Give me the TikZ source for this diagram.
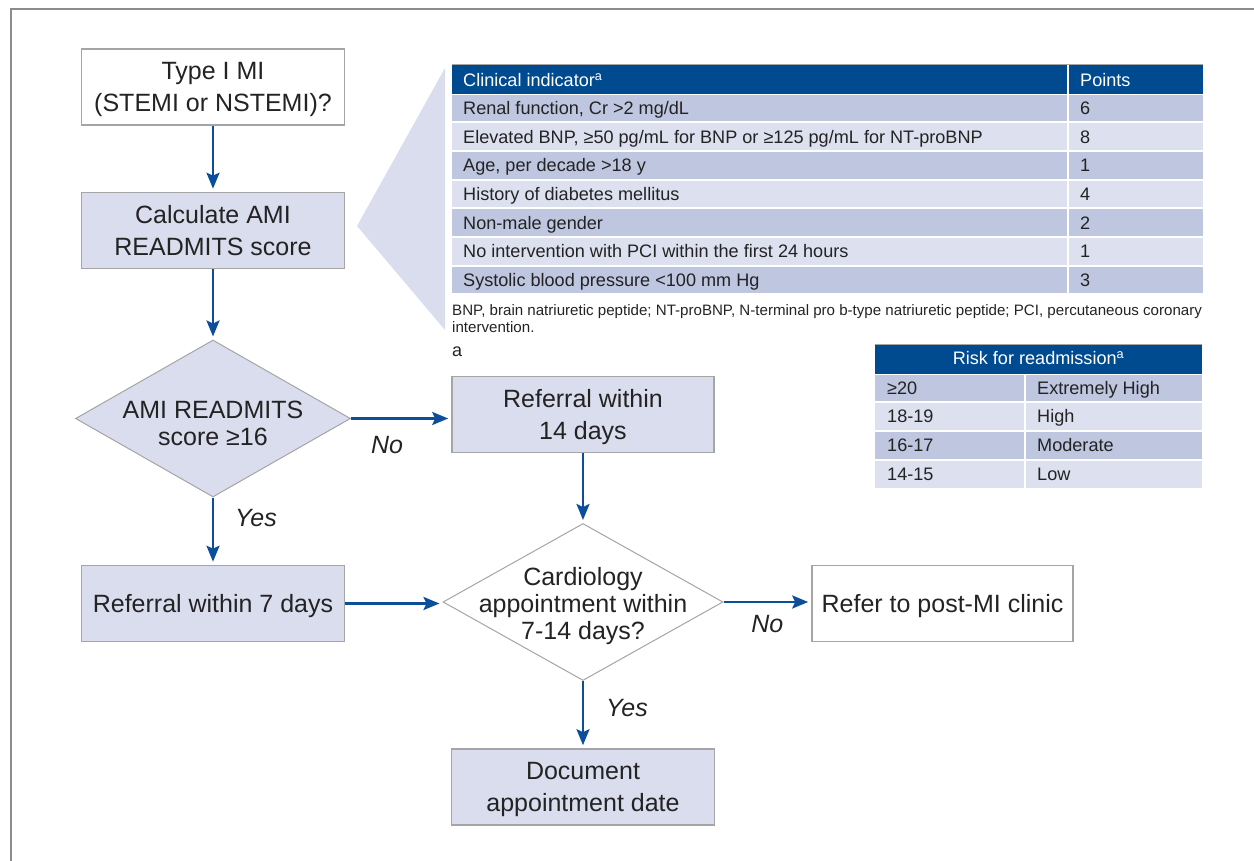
\documentclass[tikz,border=0pt]{standalone}
\usepackage{fontspec}
\setmainfont{Liberation Sans}
\usepackage{xcolor}
\usepackage{tikz}
\usetikzlibrary{calc}
\usetikzlibrary{shapes.geometric,arrows.meta,positioning}

\definecolor{arrowblue}{RGB}{12,78,154}
\definecolor{headblue}{RGB}{0,75,143}
\definecolor{boxfill}{RGB}{218,221,237}
\definecolor{rowdark}{RGB}{190,198,224}
\definecolor{rowlight}{RGB}{221,224,239}
\definecolor{edgegray}{RGB}{165,165,165}
\definecolor{framegray}{RGB}{140,140,140}
\definecolor{inkgray}{RGB}{35,35,35}

\newcommand{\chartfont}{\fontsize{25}{32}\selectfont}
\newcommand{\diafont}{\fontsize{25}{27}\selectfont}
\newcommand{\cellfont}{\fontsize{18.1}{22}\selectfont}
\newcommand{\notefont}{\fontsize{15.1}{17.5}\selectfont}

\begin{document}
\begin{tikzpicture}[x=1pt,y=-1pt,
	flowbox/.style={draw=edgegray,line width=1.6pt,minimum width=263pt,minimum height=76pt,inner sep=0pt,text depth=0pt,align=center,font=\chartfont,text=inkgray},
	shaded/.style={fill=boxfill},
	decision/.style={diamond,draw=edgegray,line width=1pt,inner sep=0pt,minimum width=#1,minimum height=157pt},
	dtext/.style={align=center,font=\diafont,text=inkgray},
	flow/.style={line width=2.6pt,draw=arrowblue,-{Stealth[length=16pt,width=13pt,inset=3pt]},shorten >=3pt},
	yn/.style={font=\chartfont\itshape,text=inkgray,inner sep=0pt},
	cell/.style={font=\cellfont,text=inkgray,inner sep=0pt,text height=1.5ex,text depth=.25ex}]
	\useasboundingbox (0,0) rectangle (1254,861);
	% frame
	\draw[framegray,line width=1.5pt] (11,861) -- (11,9) -- (1254,9);

	% pointer to the score table
	\fill[boxfill] (445,68) -- (357,226) -- (445,330) -- cycle;

	% score table
	\draw[edgegray,line width=0.8pt] (452,64.5) -- (1203,64.5);
	\fill[headblue] (452,65) rectangle (1067,93.6);
	\fill[headblue] (1069,65) rectangle (1203,93.6);
	\node[cell,text=white,anchor=west] (hind) at (463,83) {Clinical indicator\textsuperscript{a}};
	\node[cell,text=white,anchor=west] (hpts) at (1080,83) {Points};
	\foreach \txt/\pts/\col [count=\i] in {{Renal function, Cr >2 mg/dL}/6/rowdark,
		{Elevated BNP, ≥50 pg/mL for BNP or ≥125 pg/mL for NT-proBNP}/8/rowlight,
		{Age, per decade >18 y}/1/rowdark,
		{History of diabetes mellitus}/4/rowlight,
		{Non-male gender}/2/rowdark,
		{No intervention with PCI within the first 24 hours}/1/rowlight,
		{Systolic blood pressure <100 mm Hg}/3/rowdark}{
		\pgfmathsetmacro\yt{65+28.65*\i}
		\fill[\col] (452,\yt+1) rectangle (1067,\yt+27.65);
		\fill[\col] (1069,\yt+1) rectangle (1203,\yt+27.65);
		\node[cell,anchor=west] (ind\i) at (463,\yt+17.5) {\txt};
		\node[cell,anchor=west] (pts\i) at (1080,\yt+17.5) {\pts};
	}
	\node[font=\notefont,text=inkgray,align=left,anchor=north west,inner sep=0pt] (abbr) at (452,304)
		{BNP, brain natriuretic peptide; NT-proBNP, N-terminal pro b-type natriuretic peptide; PCI, percutaneous coronary\\intervention.};
	\node[font=\fontsize{18}{20}\selectfont,text=inkgray,anchor=west,inner sep=0pt] (amark) at (452,352) {a};

	% risk table
	\draw[edgegray,line width=0.8pt] (875,344.5) -- (1202,344.5);
	\fill[headblue] (875,345) rectangle (1202,373.7);
	\node[cell,text=white] (hrisk) at (1038.5,361) {Risk for readmission\textsuperscript{a}};
	\foreach \sc/\lvl/\col [count=\i] in {≥20/Extremely High/rowdark,18-19/High/rowlight,16-17/Moderate/rowdark,14-15/Low/rowlight}{
		\pgfmathsetmacro\yt{345+28.7*\i}
		\fill[\col] (875,\yt+1) rectangle (1023.5,\yt+27.7);
		\fill[\col] (1025.5,\yt+1) rectangle (1202,\yt+27.7);
		\node[cell,anchor=west] (sc\i) at (887,\yt+17) {\sc};
		\node[cell,anchor=west] (lvl\i) at (1037,\yt+17) {\lvl};
	}

	% flowchart
	\node[flowbox,fill=white] (mi) at (213,87) {Type I MI\\(STEMI or NSTEMI)?};
	\node[flowbox,shaded] (calc) at (213,230.5) {Calculate AMI\\READMITS score};
	\node[decision=275pt,fill=boxfill,label={[dtext,yshift=-5pt]center:{AMI READMITS\\score ≥16}}] (score) at (213,418.5) {};
	\node[flowbox,shaded,minimum width=262pt] (r14) at (583,414.5) {Referral within\\14 days};
	\node[flowbox,shaded] (r7) at (213,603.5) {Referral within 7 days};
	\node[decision=280pt,fill=white,label={[dtext,yshift=-4pt]center:{Cardiology\\appointment within\\7-14 days?}}] (appt) at (583,602) {};
	\node[flowbox,fill=white,minimum width=261pt] (clinic) at (942.5,603.5) {Refer to post-MI clinic};
	\node[flowbox,shaded] (doc) at (583,787) {Document\\appointment date};

	\draw[flow] (mi) -- (calc);
	\draw[flow] (calc) -- (score);
	\draw[flow] (score.east) -- node[yn,pos=0.36,yshift=-27pt] (no1) {No} (score.east -| r14.west);
	\draw[flow] (score) -- node[yn,pos=0.3,xshift=43pt] (yes1) {Yes} (r7);
	\draw[flow] (r14) -- (appt);
	\draw[flow] (r7.east) -- (r7.east -| appt.west);
	\draw[flow] (appt.east) -- node[yn,pos=0.5,yshift=-22pt] (no2) {No} (appt.east -| clinic.west);
	\draw[flow] (appt) -- node[yn,pos=0.4,xshift=44pt] (yes2) {Yes} (doc);
\end{tikzpicture}
\end{document}
